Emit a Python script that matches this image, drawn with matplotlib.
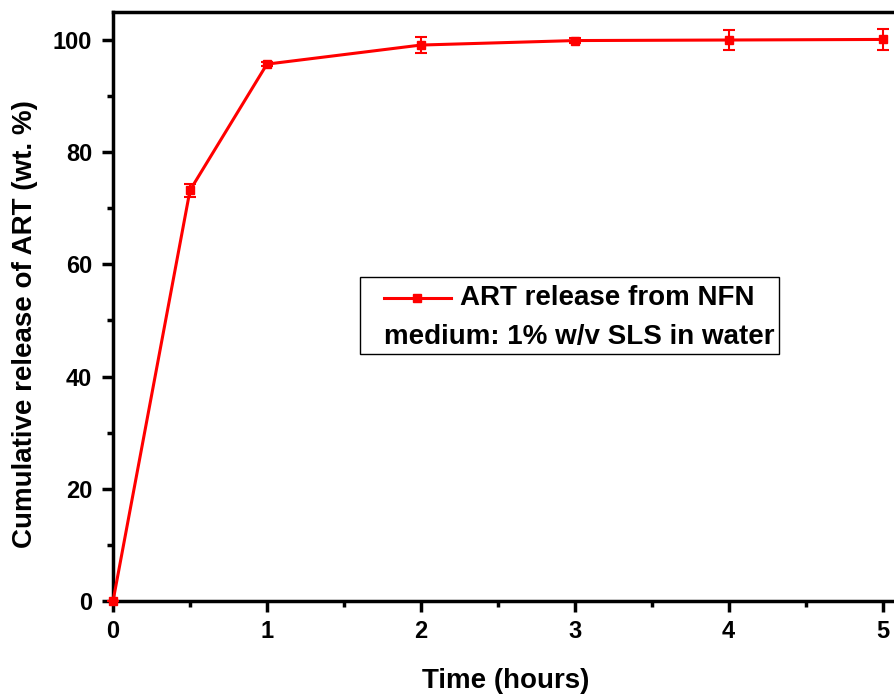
import matplotlib
matplotlib.use('Agg')
import matplotlib.pyplot as plt
from matplotlib.lines import Line2D
from matplotlib.offsetbox import AnchoredOffsetbox, DrawingArea, TextArea, HPacker, VPacker
from matplotlib.ticker import MultipleLocator

plt.rcParams['font.family'] = ['Liberation Sans', 'DejaVu Sans']
plt.rcParams['font.weight'] = 'bold'

time_h = [0, 0.5, 1, 2, 3, 4, 5]
release = [0, 73.2, 95.7, 99.1, 99.9, 100.0, 100.1]
release_err = [0, 1.1, 0.3, 1.5, 0.5, 1.75, 1.8]
legend_line1 = 'ART release from NFN'
legend_line2 = 'medium: 1% w/v SLS in water'

fig = plt.figure(figsize=(8.95, 6.95), dpi=100)
ax = fig.add_axes([0.1263, 0.1353, 0.877, 0.8475])

ax.errorbar(time_h, release, yerr=release_err, color='red', lw=2.2,
            marker='s', markersize=6, elinewidth=1.5, capsize=4.5,
            capthick=1.5, clip_on=False, zorder=3)

ax.set_xlim(0, 5.1)
ax.set_ylim(0, 105)
ax.xaxis.set_major_locator(MultipleLocator(1))
ax.xaxis.set_minor_locator(MultipleLocator(0.5))
ax.yaxis.set_major_locator(MultipleLocator(20))
ax.yaxis.set_minor_locator(MultipleLocator(10))

for s in ax.spines.values():
    s.set_linewidth(2.5)
ax.tick_params(which='major', direction='out', length=8, width=2.5,
               labelsize=17, pad=6)
ax.tick_params(which='minor', direction='out', length=4, width=2.5)
ax.tick_params(axis='y', which='major', pad=7)

ax.set_xlabel('Time (hours)', fontsize=20, fontweight='bold')
ax.xaxis.set_label_coords(0.5, -0.114)
ax.xaxis.label.set_va('top')
ax.set_ylabel('Cumulative release of ART (wt. %)', fontsize=20,
              fontweight='bold')
ax.yaxis.set_label_coords(-0.096, 0.47)

# legend box built by hand so the second line starts under the handle
da = DrawingArea(48, 14, 0, 0)
da.add_artist(Line2D([0, 48], [7, 7], color='red', lw=2.2))
da.add_artist(Line2D([24], [7], color='red', marker='s', markersize=6))
t1 = TextArea(legend_line1, textprops=dict(fontsize=20, fontweight='bold'))
t2 = TextArea(legend_line2, textprops=dict(fontsize=20, fontweight='bold'))
row1 = HPacker(children=[da, t1], align='center', pad=0, sep=7)
lines = VPacker(children=[row1, t2], align='left', pad=0, sep=9)
top_gap = DrawingArea(1, 3, 0, 0)
box = VPacker(children=[top_gap, lines], align='left', pad=0, sep=0)
left_gap = DrawingArea(14, 1, 0, 0)
outer = HPacker(children=[left_gap, box], align='center', pad=0, sep=0)
anch = AnchoredOffsetbox(loc='upper left', child=outer, pad=0.3, borderpad=0,
                         frameon=True, bbox_to_anchor=(0.315, 0.55),
                         bbox_transform=ax.transAxes)
anch.patch.set_edgecolor('black')
anch.patch.set_linewidth(1.0)
anch.patch.set_boxstyle('square', pad=0)
ax.add_artist(anch)

fig.savefig('out.png', dpi=100)
